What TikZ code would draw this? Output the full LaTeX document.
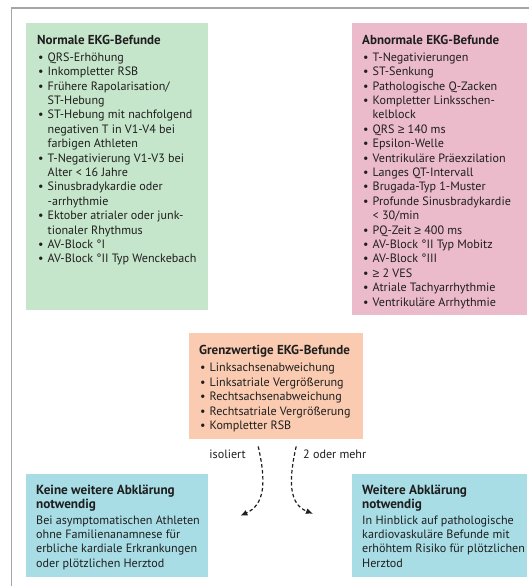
\documentclass[tikz,border=0pt]{standalone}
\usepackage{fontspec}
\setmainfont{PT Sans}
\newfontfamily\symf{Liberation Sans}
\usetikzlibrary{arrows.meta,calc}
\definecolor{cgreen}{RGB}{198,230,203}
\definecolor{cpink}{RGB}{236,187,203}
\definecolor{corange}{RGB}{250,203,177}
\definecolor{cblue}{RGB}{168,221,230}
\definecolor{textc}{RGB}{30,30,30}
\definecolor{framec}{RGB}{165,165,165}
\newcommand\bodyf{\fontsize{12.1}{14.4}\selectfont}
\newcommand\titf{\bfseries\fontsize{13}{14.4}\selectfont}
\newcommand\btitf{\bfseries\fontsize{13.2}{13}\selectfont}
\newcommand\bu{\makebox[10.5pt][l]{\hspace{1pt}\textbullet}}
\newcommand\cl{\hspace*{10.5pt}}
\newcommand\mygeq{{\symf ≥}}
\tikzset{
  box/.style={inner sep=0pt, anchor=north west, draw=none},
  txt/.style={inner sep=0pt, anchor=north west, align=left, text=textc, font=\bodyf},
  lbl/.style={inner sep=0pt, text=textc, font=\bodyf},
  conn/.style={line width=1.2pt, dash pattern=on 3.5pt off 2.5pt, -{Latex[length=7pt,width=6pt]}, textc},
}
\begin{document}
\begin{tikzpicture}[x=1pt,y=-1pt]
\useasboundingbox (0,0) rectangle (529,586);
\draw[framec, line width=1.3pt] (11.5,586) -- (11.5,8) -- (529,8);

% boxes
\node[box, fill=cgreen, minimum width=182pt, minimum height=287pt] (normal) at (26,23) {};
\node[box, fill=cpink, minimum width=175pt, minimum height=292pt] (abnormal) at (352,23) {};
\node[box, fill=corange, minimum width=174pt, minimum height=106pt] (grenz) at (189,333) {};
\node[box, fill=cblue, minimum width=182pt, minimum height=103pt] (keine) at (26,474) {};
\node[box, fill=cblue, minimum width=175pt, minimum height=103pt] (weitere) at (352,474) {};

% texts
\node[txt] (normaltxt) at ($(normal.north west)+(11,12)$) {%
{\titf Normale EKG-Befunde}\\[2.4pt]
\bu QRS-Erhöhung\\
\bu Inkompletter RSB\\
\bu Frühere Rapolarisation/\\
\cl ST-Hebung\\
\bu ST-Hebung mit nachfolgend\\
\cl negativen T in V1-V4 bei\\
\cl farbigen Athleten\\
\bu T-Negativierung V1-V3 bei\\
\cl Alter < 16 Jahre\\
\bu Sinusbradykardie oder\\
\cl -arrhythmie\\
\bu Ektober atrialer oder junk-\\
\cl tionaler Rhythmus\\
\bu AV-Block °I\\
\bu AV-Block °II Typ Wenckebach};

\node[txt] (abnormaltxt) at ($(abnormal.north west)+(10,12)$) {%
{\titf Abnormale EKG-Befunde}\\[2.4pt]
\bu T-Negativierungen\\
\bu ST-Senkung\\
\bu Pathologische Q-Zacken\\
\bu Kompletter Linksschen-\\
\cl kelblock\\
\bu QRS \mygeq{} 140 ms\\
\bu Epsilon-Welle\\
\bu Ventrikuläre Präexzilation\\
\bu Langes QT-Intervall\\
\bu Brugada-Typ 1-Muster\\
\bu Profunde Sinusbradykardie\\
\cl < 30/min\\
\bu PQ-Zeit \mygeq{} 400 ms\\
\bu AV-Block °II Typ Mobitz\\
\bu AV-Block °III\\
\bu \mygeq{} 2 VES\\
\bu Atriale Tachyarrhythmie\\
\bu Ventrikuläre Arrhythmie};

\node[txt] (grenztxt) at ($(grenz.north west)+(10,12)$) {%
{\titf Grenzwertige EKG-Befunde}\\[3pt]
\bu Linksachsenabweichung\\
\bu Linksatriale Vergrößerung\\
\bu Rechtsachsenabweichung\\
\bu Rechtsatriale Vergrößerung\\
\bu Kompletter RSB};

\node[txt] (keinetxt) at ($(keine.north west)+(10,11)$) {%
{\btitf Keine weitere Abklärung}\\[-1pt]
{\btitf notwendig}\\[1.5pt]
Bei asymptomatischen Athleten\\
ohne Familienanamnese für\\
erbliche kardiale Erkrankungen\\
oder plötzlichen Herztod};

\node[txt] (weiteretxt) at ($(weitere.north west)+(10,11)$) {%
{\btitf Weitere Abklärung}\\[-1pt]
{\btitf notwendig}\\[1.5pt]
In Hinblick auf pathologische\\
kardiovaskuläre Befunde mit\\
erhöhtem Risiko für plötzlichen\\
Herztod};

% connectors
\coordinate (ls) at ($(grenz.south)+(-18,7)$);
\coordinate (le) at ($(keine.east)+(32,-10)$);
\coordinate (rs) at ($(grenz.south)+(20,7)$);
\coordinate (re) at ($(weitere.west)+(-39,-12)$);
\draw[conn] (ls) .. controls ($(ls)+(8,35)$) and ($(ls)+(7,58)$) .. (le);
\draw[conn] (rs) .. controls ($(rs)+(-8,35)$) and ($(rs)+(-7,58)$) .. (re);

\node[lbl, anchor=east] (iso) at (246,454) {isoliert};
\node[lbl, anchor=west] (mehr) at (303,454) {2 oder mehr};
\end{tikzpicture}
\end{document}
